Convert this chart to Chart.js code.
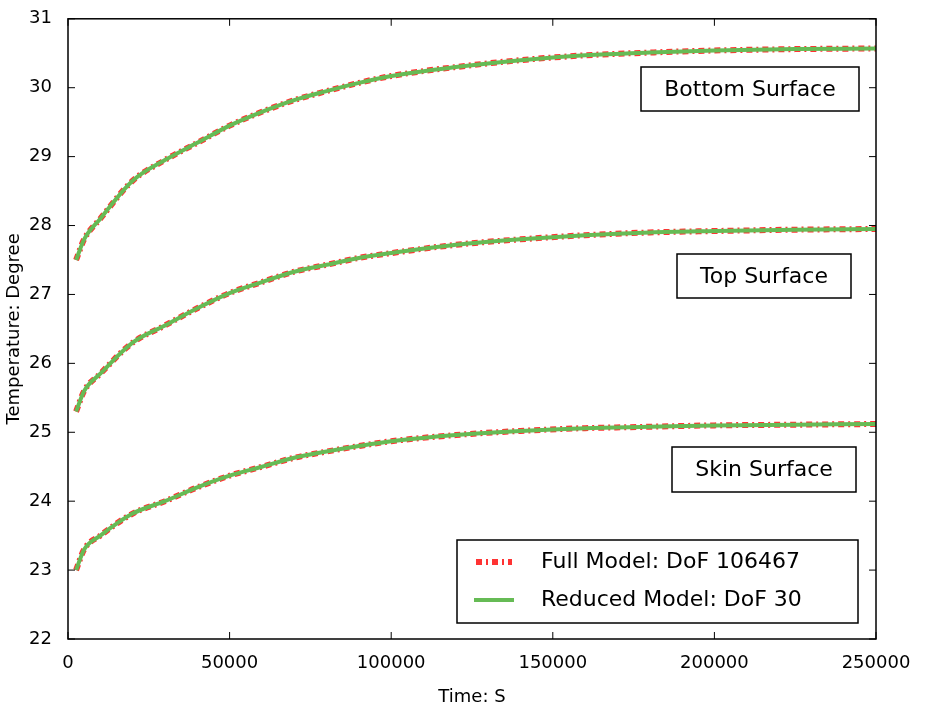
<!DOCTYPE html>
<html><head><meta charset="utf-8">
<script src="https://cdn.jsdelivr.net/npm/chart.js@4/dist/chart.umd.min.js"></script>
<style>body{margin:0;background:#fff}#w{width:940px;height:712px}</style>
</head><body><div id="w"><canvas id="c"></canvas></div>
<script>
const times = [2500,5000,10000,20000,30000,40000,50000,60000,70000,80000,90000,100000,120000,140000,160000,180000,200000,225000,250000];
const bottom = [27.5,27.8,28.1,28.65,28.95,29.2,29.45,29.65,29.82,29.95,30.07,30.17,30.3,30.4,30.47,30.51,30.54,30.56,30.57];
const top_ = [25.3,25.6,25.85,26.3,26.55,26.8,27.02,27.18,27.33,27.43,27.53,27.6,27.72,27.8,27.86,27.9,27.92,27.94,27.95];
const skin = [23.0,23.3,23.5,23.82,24.0,24.2,24.37,24.5,24.63,24.72,24.8,24.87,24.96,25.02,25.06,25.08,25.1,25.11,25.12];
const labels = [["Bottom Surface",30.57],["Top Surface",27.95],["Skin Surface",25.12]];
const boxes = [{t:"Bottom Surface",x:641,y:67,w:218,h:44},{t:"Top Surface",x:677,y:254,w:174,h:44},{t:"Skin Surface",x:672,y:447,w:184,h:45}];
const legendNames = ["Full Model: DoF 106467","Reduced Model: DoF 30"];
const RED="#ff3333", GREEN="#66bb55";
const F="'DejaVu Sans', sans-serif";
function pts(a){return times.map((t,i)=>({x:t,y:a[i]}));}
const ds=[];
[bottom,top_,skin].forEach(a=>{
  ds.push({data:pts(a),borderColor:RED,borderWidth:6,borderDash:[6,4,2,4],pointRadius:0,tension:0.4,cubicInterpolationMode:'monotone',order:2});
});
[bottom,top_,skin].forEach(a=>{
  ds.push({data:pts(a),borderColor:GREEN,borderWidth:4,pointRadius:0,cubicInterpolationMode:'monotone',order:1});
});
const deco={id:'deco',afterDraw(ch){
  const c=ch.ctx,a=ch.chartArea,xs=ch.scales.x,ys=ch.scales.y;
  c.save();c.strokeStyle='#000';c.lineWidth=1.5;
  c.strokeRect(a.left,a.top,a.right-a.left,a.bottom-a.top);
  c.lineWidth=1;
  for(let v=0;v<=250000;v+=50000){const p=xs.getPixelForValue(v);c.beginPath();c.moveTo(p,a.bottom);c.lineTo(p,a.bottom-7);c.moveTo(p,a.top);c.lineTo(p,a.top+7);c.stroke();}
  for(let v=22;v<=31;v++){const p=ys.getPixelForValue(v);c.beginPath();c.moveTo(a.left,p);c.lineTo(a.left+7,p);c.moveTo(a.right,p);c.lineTo(a.right-7,p);c.stroke();}
  c.font='22px '+F;c.textAlign='center';c.textBaseline='middle';
  boxes.forEach(b=>{c.fillStyle='#fff';c.fillRect(b.x,b.y,b.w,b.h);c.lineWidth=1.5;c.strokeRect(b.x,b.y,b.w,b.h);c.fillStyle='#000';c.fillText(b.t,b.x+b.w/2,b.y+b.h/2+1);});
  // legend
  const L={x:457,y:540,w:401,h:83};
  c.fillStyle='#fff';c.fillRect(L.x,L.y,L.w,L.h);c.lineWidth=1.5;c.strokeRect(L.x,L.y,L.w,L.h);
  c.textAlign='left';c.fillStyle='#000';
  const rows=[L.y+22,L.y+60];
  c.setLineDash([6,4,2,4]);c.strokeStyle=RED;c.lineWidth=6;c.beginPath();c.moveTo(476,rows[0]);c.lineTo(512,rows[0]);c.stroke();
  c.setLineDash([]);c.strokeStyle=GREEN;c.lineWidth=4;c.beginPath();c.moveTo(474,rows[1]);c.lineTo(514,rows[1]);c.stroke();
  c.fillText(legendNames[0],541,rows[0]);c.fillText(legendNames[1],541,rows[1]);
  c.restore();
}};
new Chart(document.getElementById('c'),{type:'line',data:{datasets:ds},plugins:[deco],
options:{responsive:true,maintainAspectRatio:false,animation:false,
layout:{padding:{left:0,top:14,right:64,bottom:0}},
plugins:{legend:{display:false},tooltip:{enabled:false}},
scales:{
 x:{type:'linear',min:0,max:250000,grid:{display:false},border:{display:false},
   afterFit(s){s.height=73;},
   ticks:{stepSize:50000,color:'#000',font:{size:18,family:F},maxRotation:0,padding:6,callback:v=>String(v)},
   title:{display:true,text:'Time: S',color:'#000',font:{size:18,family:F},padding:{top:0}}},
 y:{min:22,max:31,grid:{display:false},border:{display:false},
   afterFit(s){s.width=68;},
   ticks:{stepSize:1,color:'#000',font:{size:18,family:F},padding:8},
   title:{display:true,text:'Temperature: Degree',color:'#000',font:{size:18,family:F},padding:{bottom:2}}}
}}});
</script></body></html>
